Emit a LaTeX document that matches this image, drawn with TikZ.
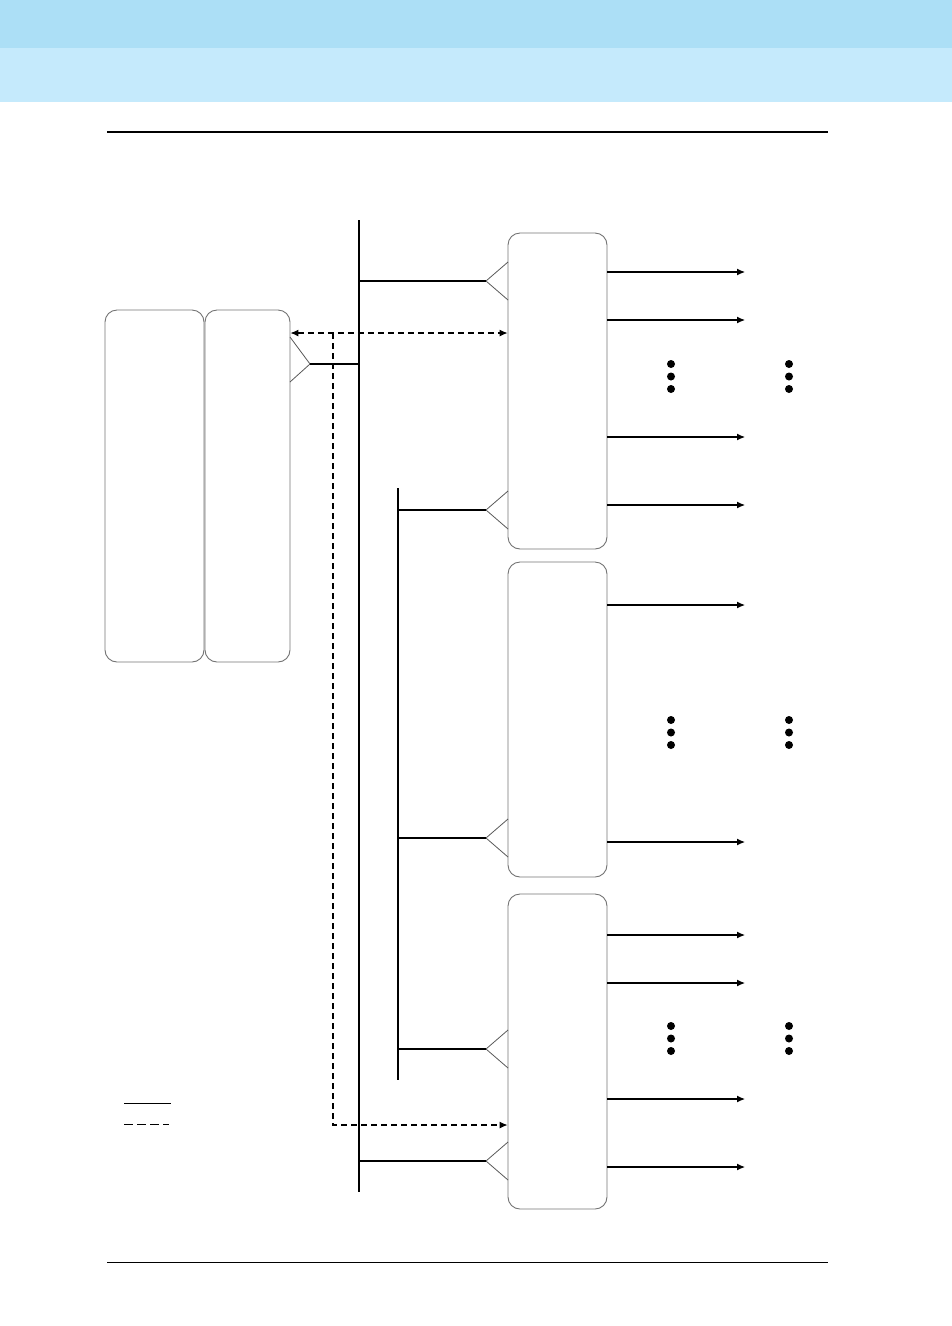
\documentclass[tikz,border=0pt]{standalone}
\usepackage{tikz}
\usetikzlibrary{arrows.meta}
\definecolor{bandtop}{HTML}{ACDFF6}
\definecolor{bandlow}{HTML}{C5EAFC}
\tikzset{
  card/.style={draw=black!55,line width=0.9pt,rounded corners=12pt,inner sep=0pt,minimum width=99pt},
  tri/.style={draw=black!65,line width=0.8pt},
  bus/.style={line width=1.1pt},
  sig/.style={line width=1.1pt,dash pattern=on 6pt off 4pt},
  feed/.style={line width=1.1pt,-{Latex[length=8pt,width=7pt]}},
}
\begin{document}
\begin{tikzpicture}[x=1pt,y=-1pt]
\useasboundingbox (0,0) rectangle (952,1326);
\fill[bandtop] (0,0) rectangle (952,48);
\fill[bandlow] (0,48) rectangle (952,102);
\draw[line width=2pt] (107,131.5) -- (828,131.5);
\draw[line width=1pt] (107,1262) -- (828,1262);

\node[card,minimum height=352pt] (ctrl) at (154.5,486) {};
\node[card,minimum width=85pt,minimum height=352pt] (port) at (247.5,486) {};
\node[card,minimum height=316pt] (mod1) at (557.5,391) {};
\node[card,minimum height=315pt] (mod2) at (557.5,719.5) {};
\node[card,minimum height=315pt] (mod3) at (557.5,1051.5) {};

\draw[bus] (359,220) -- (359,1192);
\draw[bus] (398,488) -- (398,1080);

\coordinate (p0) at (310,364);
\coordinate (t1) at (486,281);
\coordinate (t2) at (486,510);
\coordinate (t3) at (486,838);
\coordinate (t4) at (486,1049);
\coordinate (t5) at (486,1161);
\draw[tri] (290,337) -- (p0) -- (290,382);
\draw[tri] (508,262) -- (t1) -- (508,300);
\draw[tri] (508,491) -- (t2) -- (508,529);
\draw[tri] (508,819) -- (t3) -- (508,857);
\draw[tri] (508,1030) -- (t4) -- (508,1068);
\draw[tri] (508,1142) -- (t5) -- (508,1180);
\draw[bus] (p0) -- (359,364);
\draw[bus] (359,281) -- (t1);
\draw[bus] (398,510) -- (t2);
\draw[bus] (398,838) -- (t3);
\draw[bus] (398,1049) -- (t4);
\draw[bus] (359,1161) -- (t5);

\draw[sig,{Latex[length=8pt,width=7pt]}-{Latex[length=8pt,width=7pt]}] (port.east |- 0,333) -- (mod1.west |- 0,333);
\draw[sig,-{Latex[length=8pt,width=7pt]}] (333,333) -- (333,1125) -- (mod3.west |- 0,1125);

\foreach \y in {272,320,437,505} \draw[feed] (mod1.east |- 0,\y) -- (745,\y);
\foreach \y in {605,842} \draw[feed] (mod2.east |- 0,\y) -- (745,\y);
\foreach \y in {935,983,1099,1167} \draw[feed] (mod3.east |- 0,\y) -- (745,\y);

\foreach \y in {364,720,1026} {
  \foreach \x in {671,789} {
    \fill (\x,\y) circle (4pt);
    \fill (\x,\y+12.5) circle (4pt);
    \fill (\x,\y+25) circle (4pt);
  }
}

\draw[line width=1pt] (124,1103) -- (171,1103);
\draw[line width=1pt,dash pattern=on 9pt off 4pt] (124,1124) -- (169,1124);
\end{tikzpicture}
\end{document}
